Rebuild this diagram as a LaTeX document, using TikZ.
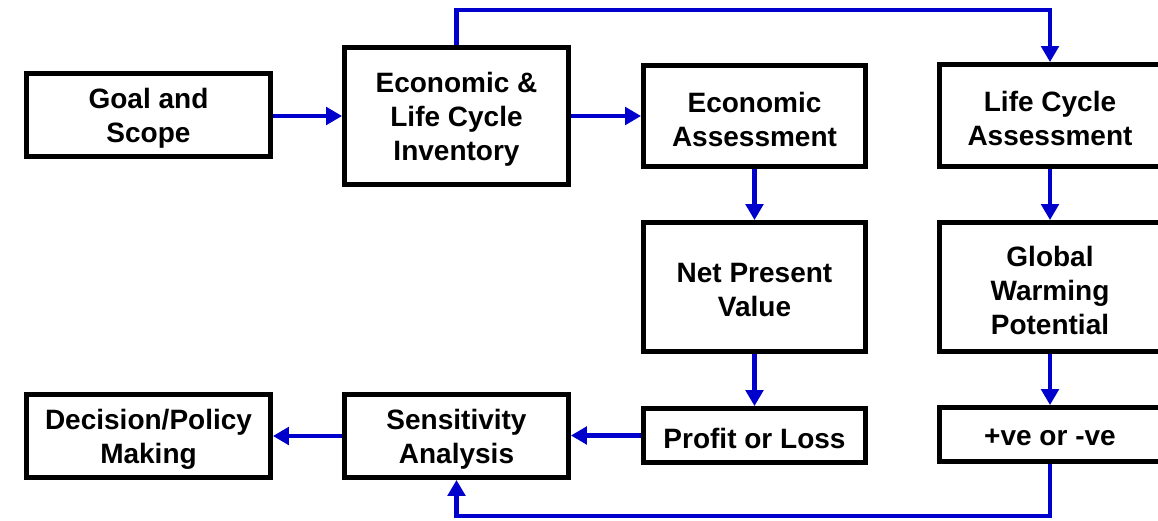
\documentclass[tikz,border=0pt]{standalone}
\usepackage{fontspec}
\setmainfont{Liberation Sans}
\usetikzlibrary{arrows.meta}
\definecolor{flowblue}{RGB}{0,0,204}
\begin{document}
\begin{tikzpicture}[x=0.75pt,y=-0.75pt,
  box/.style={draw=black, line width=3.6pt, fill=white, inner sep=0pt},
  boxtext/.style={align=center, inner sep=0pt, yshift=-2.5pt,
    font=\bfseries\fontsize{21}{25.5}\selectfont},
  flow/.style={draw=flowblue, line width=3.5pt,
    -{Triangle[length=12pt,width=13pt]}}]
\useasboundingbox (0,0) rectangle (1158,521);
\clip (0,0) rectangle (1158,521);

% top row
\node[box, minimum width=244*0.75pt, minimum height=83*0.75pt,
  label={[boxtext]center:{Goal and\\Scope}}] (goal) at (148.5,115) {};
\node[box, minimum width=224*0.75pt, minimum height=137*0.75pt,
  label={[boxtext]center:{Economic \&\\Life Cycle\\Inventory}}] (inv) at (456.5,116) {};
\node[box, minimum width=222*0.75pt, minimum height=101*0.75pt,
  label={[boxtext]center:{Economic\\Assessment}}] (ea) at (754.5,116) {};
\node[box, minimum width=221*0.75pt, minimum height=102*0.75pt,
  label={[boxtext]center:{Life Cycle\\Assessment}}] (lca) at (1050,115.5) {};

% middle row
\node[box, minimum width=222*0.75pt, minimum height=129*0.75pt,
  label={[boxtext]center:{Net Present\\Value}}] (npv) at (754.5,287) {};
\node[box, minimum width=221*0.75pt, minimum height=129*0.75pt,
  label={[boxtext]center:{Global\\Warming\\Potential}}] (gwp) at (1050,287) {};

% bottom row
\node[box, minimum width=222*0.75pt, minimum height=54*0.75pt,
  label={[boxtext]center:{Profit or Loss}}] (pl) at (754.5,435.5) {};
\node[box, minimum width=221*0.75pt, minimum height=54*0.75pt,
  label={[boxtext]center:{+ve or -ve}}] (pm) at (1050,434.5) {};
\node[box, minimum width=224*0.75pt, minimum height=83*0.75pt,
  label={[boxtext]center:{Sensitivity\\Analysis}}] (sa) at (456.5,436) {};
\node[box, minimum width=244*0.75pt, minimum height=83*0.75pt,
  label={[boxtext]center:{Decision/Policy\\Making}}] (dm) at (148.5,436) {};

% connectors
\draw[flow] (goal.east |- inv) -- (inv.west);
\draw[flow] (inv.east) -- (ea.west);
\draw[flow] (ea.south) -- (npv.north);
\draw[flow] (npv.south) -- (pl.north);
\draw[flow] (lca.south) -- (gwp.north);
\draw[flow] (gwp.south) -- (pm.north);
\draw[flow] (pl.west) -- (sa.east |- pl);
\draw[flow] (sa.west) -- (dm.east);

\coordinate (topleft) at (456.5,10);
\coordinate (botleft) at (456.5,516);
\draw[flow] (inv.north) -- (topleft) -| (lca.north);
\draw[flow] (pm.south) |- (botleft) -- (sa.south);
\end{tikzpicture}
\end{document}
